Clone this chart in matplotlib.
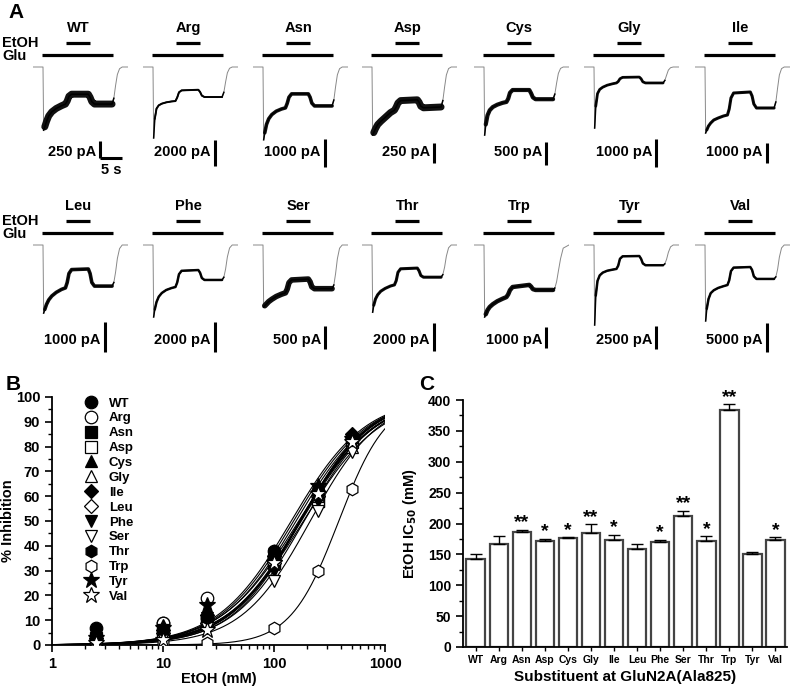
import numpy as np
import matplotlib
matplotlib.use("Agg")
import matplotlib.pyplot as plt
from matplotlib.ticker import MultipleLocator, NullFormatter

plt.rcParams["font.family"] = ["Liberation Sans", "DejaVu Sans"]
plt.rcParams["font.weight"] = "bold"
plt.rcParams["axes.labelweight"] = "bold"
plt.rcParams["mathtext.default"] = "bf"

W, H = 800, 687

# ---- data -----------------------------------------------------------------
variants = ["WT", "Arg", "Asn", "Asp", "Cys", "Gly", "Ile",
            "Leu", "Phe", "Ser", "Thr", "Trp", "Tyr", "Val"]

trace_t = [-2.3, 0.0, 0.15, 0.4, 0.8, 1.3, 2.0, 3.0, 4.2, 5.1, 5.5, 5.9,
           6.5, 10.3, 10.7, 11.1, 11.7, 15.7, 16.1, 16.5, 16.9, 17.4, 18.0, 19.3]
traces = {
    "WT":  [0, 0, -930, -880, -800, -720, -660, -610, -570, -545, -500, -430, -400, -400, -445, -510, -545, -545, -460, -270, -110, -25, 0, 0],
    "Arg": [0, 0, -5460, -4000, -3200, -2950, -2820, -2720, -2650, -2620, -2350, -1950, -1800, -1750, -1920, -2200, -2310, -2310, -1950, -1150, -450, -100, 0, 0],
    "Asn": [0, 0, -2600, -2350, -2050, -1850, -1700, -1580, -1500, -1460, -1300, -1080, -960, -960, -1080, -1290, -1390, -1390, -1180, -700, -280, -60, 0, 0],
    "Asp": [0, 0, -850, -820, -770, -720, -680, -630, -570, -540, -500, -450, -420, -410, -440, -490, -510, -500, -420, -250, -100, -20, 0, 0],
    "Cys": [0, 0, -1480, -1250, -1050, -940, -870, -820, -780, -760, -690, -560, -500, -500, -570, -660, -700, -700, -590, -350, -140, -30, 0, 0],
    "Gly": [0, 0, -2180, -1400, -950, -800, -720, -650, -600, -570, -520, -420, -370, -360, -420, -530, -570, -570, -480, -290, -110, -25, 0, 0],
    "Ile": [0, 0, -3300, -3150, -2950, -2800, -2650, -2550, -2450, -2400, -2100, -1550, -1300, -1250, -1450, -1850, -2050, -2050, -1750, -1050, -400, -80, 0, 0],
    "Leu": [0, 0, -2270, -2150, -1980, -1830, -1700, -1580, -1480, -1430, -1250, -950, -820, -800, -950, -1250, -1370, -1370, -1250, -900, -450, -120, 0, 0],
    "Phe": [0, 0, -4800, -4300, -3800, -3450, -3200, -3000, -2870, -2800, -2500, -1950, -1720, -1670, -1850, -2200, -2330, -2330, -2150, -1600, -800, -200, 0, 0],
    "Ser": [0, 0, -1350, -1320, -1280, -1230, -1180, -1120, -1070, -1040, -960, -820, -760, -740, -800, -910, -950, -950, -870, -620, -300, -70, 0, 0],
    "Thr": [0, 0, -4800, -4300, -3850, -3550, -3300, -3100, -2930, -2850, -2550, -1950, -1700, -1650, -1850, -2180, -2300, -2300, -2120, -1580, -800, -200, 0, 0],
    "Trp": [0, 0, -3430, -3300, -3100, -2950, -2820, -2680, -2560, -2480, -2350, -2150, -2000, -1900, -1980, -2100, -2140, -2140, -2050, -1750, -1250, -650, -150, 0],
    "Tyr": [0, 0, -8700, -5500, -3900, -3300, -3000, -2800, -2680, -2600, -2250, -1500, -1230, -1200, -1500, -2000, -2200, -2200, -2050, -1550, -800, -200, 0, 0],
    "Val": [0, 0, -13100, -11000, -9300, -8300, -7800, -7400, -7100, -6900, -6100, -4500, -3900, -3800, -4300, -5400, -5850, -5850, -5500, -4200, -2100, -500, 0, 0],
}
scale_pa = [250, 2000, 1000, 250, 500, 1000, 1000, 1000, 2000, 500, 2000, 1000, 2500, 5000]
glu_on, glu_off = -0.2, 16.0
etoh_on, etoh_off = 5.3, 10.7

# panel B
conc = [2.5, 10, 25, 100, 250, 500]
inhib = {
    "WT":  [7, 9, 11, 38, 62, 84],
    "Arg": [2, 9, 19, 36, 60, 83],
    "Asn": [3, 6, 10, 34, 58, 83],
    "Asp": [2, 5, 10, 33, 58, 82],
    "Cys": [4, 7, 13, 35, 62, 84],
    "Gly": [3, 8, 12, 37, 60, 80],
    "Ile": [3, 6, 12, 36, 62, 85],
    "Leu": [2, 5, 9, 33, 60, 83],
    "Phe": [2, 5, 11, 30, 58, 82],
    "Ser": [0, 3, 7, 26, 54, 78],
    "Thr": [3, 6, 11, 38, 63, 84],
    "Trp": [0, 1, 1, 7, 30, 63],
    "Tyr": [3, 7, 16, 33, 64, 83],
    "Val": [1, 2, 6, 33, 61, 82],
}
hill_n = [1.3, 1.25, 1.35, 1.3, 1.3, 1.25, 1.35, 1.3, 1.35, 1.4, 1.35, 2.0, 1.3, 1.4]

# panel C
ic50 = [143, 167, 187, 172, 176, 184, 173, 158, 170, 212, 172, 383, 150, 173]
ic50_err = [8, 12, 3, 3.5, 2.5, 15, 9, 8, 4, 9, 8, 10, 4, 5]
signif = ["", "", "**", "*", "*", "**", "*", "", "*", "**", "*", "**", "", "*"]

markers = ["o", "o", "s", "s", "^", "^", "D", "D", "v", "v", "h", "h", "*", "*"]
filled = [True, False] * 7

fig = plt.figure(figsize=(W / 100, H / 100), dpi=100)


def px_axes(left, top, w, h):
    return fig.add_axes([left / W, 1 - (top + h) / H, w / W, h / H])


# ---- panel A: traces ------------------------------------------------------
col_x = [78, 188, 298, 407, 519, 629, 740]
row_base = [67, 245]
bar_px = [17, 26, 28, 20, 23, 28, 20, 30, 30, 23, 28, 21, 23, 29]
noise_lw = [5, 1.4, 2.6, 5, 3, 2, 2.2, 2.6, 1.8, 4, 2.2, 3.2, 1.8, 1.8]
px_per_s = 4.4

for i, name in enumerate(variants):
    c = col_x[i % 7]
    yb = row_base[i // 7]
    k = scale_pa[i] / bar_px[i]  # pA per pixel
    ax = px_axes(c - 45, yb - 48, 95, 158)
    ax.set_xlim(-10 / px_per_s, 85 / px_per_s)
    ax.set_ylim(-110 * k, 48 * k)
    ax.axis("off")

    y = traces[name]
    ax.plot(trace_t, y, color="#888888", lw=0.7)
    ax.plot(trace_t[3:18], y[3:18], color="#111111", lw=noise_lw[i],
            solid_joinstyle="round", solid_capstyle="round")
    ax.plot(trace_t[2:19], y[2:19], color="black", lw=1.1)

    ax.plot([glu_on, glu_off], [12 * k, 12 * k], color="black", lw=2.3,
            solid_capstyle="butt")
    ax.plot([etoh_on, etoh_off], [24 * k, 24 * k], color="black", lw=2.3,
            solid_capstyle="butt")
    ax.text((etoh_on + etoh_off) / 2, 39 * k, name, ha="center", va="center",
            fontsize=10.5, fontweight="bold")

    # scale bar
    if i == 0:
        off, mid = 22, 82
    else:
        off, mid = 27, 86 if i < 7 else 92
    tb = (off + 35) / px_per_s
    ax.plot([tb, tb], [-mid * k - scale_pa[i] / 2, -mid * k + scale_pa[i] / 2],
            color="black", lw=2.2, solid_capstyle="butt")
    txt_y = -(85 if i < 7 else 95) * k
    ax.text(tb - 4 / px_per_s, txt_y, f"{scale_pa[i]} pA", ha="right",
            va="center", fontsize=10.5, fontweight="bold")
    if i == 0:
        bot = -mid * k - scale_pa[i] / 2
        ax.plot([tb - 0.1, tb + 5], [bot, bot], color="black", lw=2.2,
                solid_capstyle="butt")
        ax.text(tb + 2.5, -103 * k, "5 s", ha="center", va="center",
                fontsize=10.5, fontweight="bold")

for yb in row_base:
    fig.text(2 / W, 1 - (yb - 24) / H, "EtOH", ha="left", va="center",
             fontsize=10.5, fontweight="bold")
    fig.text(2 / W, 1 - (yb - 11) / H, "Glu", ha="left", va="center",
             fontsize=10.5, fontweight="bold")

fig.text(8 / W, 1 - 12 / H, "A", ha="left", va="center", fontsize=15, fontweight="bold")
fig.text(6 / W, 1 - 385 / H, "B", ha="left", va="center", fontsize=15, fontweight="bold")
fig.text(419 / W, 1 - 385 / H, "C", ha="left", va="center", fontsize=15, fontweight="bold")

# ---- panel B: concentration-response ---------------------------------------
axb = px_axes(52, 397, 333, 248)
xs = np.logspace(0, 3, 300)
handles = []
for i, name in enumerate(variants):
    curve = 100 / (1 + (ic50[i] / xs) ** hill_n[i])
    axb.plot(xs, curve, color="black", lw=0.8, zorder=2)
    face = "black" if filled[i] else "white"
    ms = {"*": 12, "D": 7.5}.get(markers[i], 9)
    h, = axb.plot(conc, inhib[name], linestyle="none", marker=markers[i],
                  markersize=ms, markerfacecolor=face, markeredgecolor="black",
                  markeredgewidth=0.9, zorder=3, label=name)
    handles.append(h)

axb.set_xscale("log")
axb.set_xlim(1, 1000)
axb.set_ylim(0, 100)
axb.yaxis.set_major_locator(MultipleLocator(10))
axb.yaxis.set_minor_locator(MultipleLocator(5))
axb.set_xticks([1, 10, 100, 1000])
axb.set_xticklabels(["1", "10", "100", "1000"])
axb.xaxis.set_minor_formatter(NullFormatter())
for s in ["top", "right"]:
    axb.spines[s].set_visible(False)
for s in ["left", "bottom"]:
    axb.spines[s].set_linewidth(1.3)
axb.tick_params(which="major", direction="out", length=5, width=1.2, labelsize=10.5)
axb.tick_params(which="minor", direction="out", length=3, width=1)
for lab in axb.get_xticklabels() + axb.get_yticklabels():
    lab.set_fontweight("bold")
axb.set_xlabel("EtOH (mM)", fontsize=10.5, fontweight="bold", labelpad=1)
axb.set_ylabel("% Inhibition", fontsize=10.5, fontweight="bold")
axb.yaxis.set_label_coords(-0.11, 0.5)
axb.legend(handles=handles, loc="upper left", bbox_to_anchor=(0.08, 1.02),
           frameon=False, labelspacing=0.2, handletextpad=0.9,
           handlelength=1.0, borderaxespad=0, prop={"weight": "bold", "size": 9.5})

# ---- panel C: IC50 bars ---------------------------------------------------
axc = px_axes(463, 400, 324, 247)
xpos = np.arange(len(variants))
axc.bar(xpos, ic50, width=0.8, color="white", edgecolor="#444444",
        linewidth=1.6, zorder=2)
axc.errorbar(xpos, ic50, yerr=[np.zeros(len(ic50)), ic50_err], fmt="none",
             ecolor="black", elinewidth=1, capsize=4, capthick=1, zorder=3)
for i in range(len(variants)):
    if signif[i]:
        axc.text(xpos[i], ic50[i] + ic50_err[i] - 3, signif[i], ha="center",
                 va="bottom", fontsize=14, fontweight="bold")
axc.set_xlim(-0.55, 13.5)
axc.set_ylim(0, 400)
axc.yaxis.set_major_locator(MultipleLocator(50))
axc.yaxis.set_minor_locator(MultipleLocator(25))
axc.set_xticks(xpos)
axc.set_xticklabels(variants, fontsize=7.5, fontweight="bold")
for s in ["top", "right"]:
    axc.spines[s].set_visible(False)
for s in ["left", "bottom"]:
    axc.spines[s].set_linewidth(1.3)
axc.tick_params(axis="y", which="major", direction="out", length=5, width=1.2, labelsize=10)
axc.tick_params(axis="y", which="minor", direction="out", length=3, width=1)
axc.tick_params(axis="x", direction="out", length=3, width=1, pad=3)
for lab in axc.get_yticklabels():
    lab.set_fontweight("bold")
axc.set_ylabel(r"EtOH IC$_{50}$ (mM)", fontsize=10.5, fontweight="bold")
axc.yaxis.set_label_coords(-0.135, 0.5)
axc.set_xlabel("Substituent at GluN2A(Ala825)", fontsize=11, fontweight="bold", labelpad=3)

fig.savefig("out.png", dpi=100)
